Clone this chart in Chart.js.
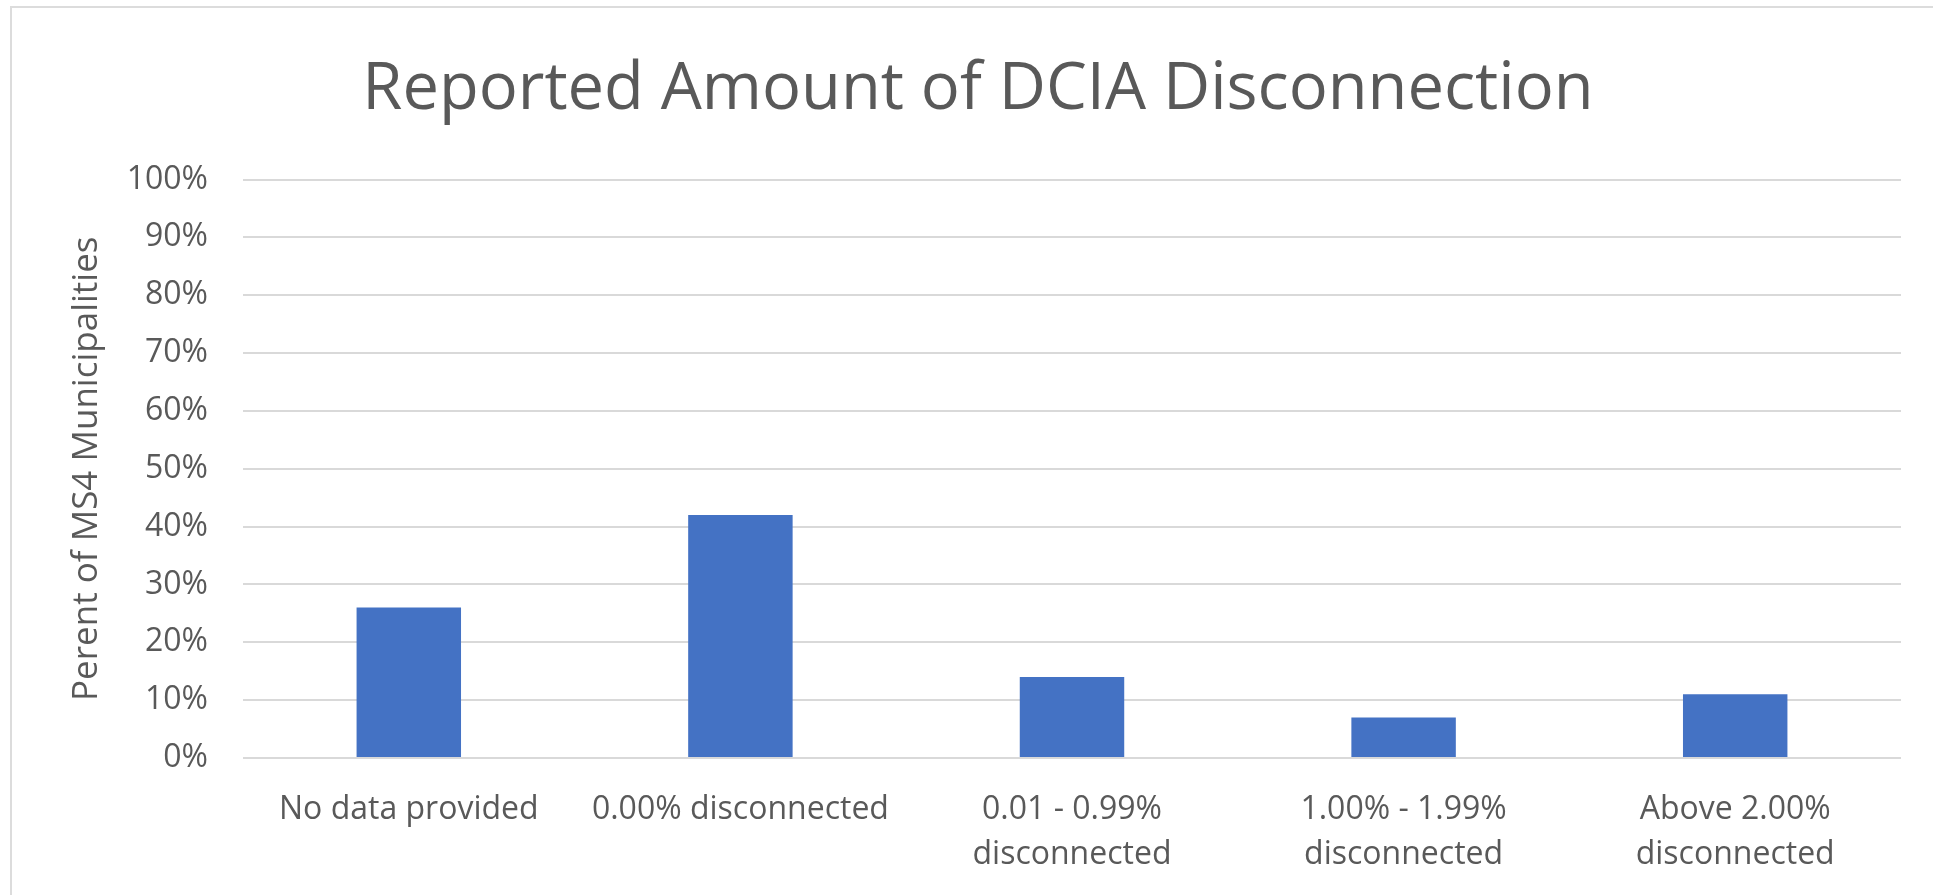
<!DOCTYPE html>
<html>
<head>
<meta charset="utf-8">
<title>Reported Amount of DCIA Disconnection</title>
<script src="https://cdn.jsdelivr.net/npm/chart.js@4"></script>
<style>
    html, body { margin: 0; padding: 0; background: #ffffff; }
    #grafico { display: block; }
</style>
</head>
<body>
<canvas id="grafico" width="1933" height="895"></canvas>
<script>
// Datos
const categorias = [
    'No data provided',
    '0.00% disconnected',
    ['0.01 - 0.99%', 'disconnected'],
    ['1.00% - 1.99%', 'disconnected'],
    ['Above 2.00%', 'disconnected']
];
const porcentajes = [26, 42, 14, 7, 11];
const ticksY = [0, 10, 20, 30, 40, 50, 60, 70, 80, 90, 100];

const titulo = 'Reported Amount of DCIA Disconnection';
const tituloEjeY = 'Perent of MS4 Municipalities';

const grisTexto = '#595959';
const grisLinea = '#d9d9d9';
const azul = '#4472c4';

// marco gris claro arriba y a la izquierda (como el recorte original)
const marco = {
    id: 'marco',
    beforeDraw(chart) {
        const ctx = chart.ctx;
        ctx.save();
        ctx.fillStyle = '#ffffff';
        ctx.fillRect(0, 0, chart.width, chart.height);
        ctx.strokeStyle = '#dcdcdc';
        ctx.lineWidth = 2;
        ctx.beginPath();
        ctx.moveTo(11, chart.height);
        ctx.lineTo(11, 7);
        ctx.lineTo(chart.width, 7);
        ctx.stroke();
        ctx.restore();
    }
};

const ctx = document.getElementById('grafico').getContext('2d');
new Chart(ctx, {
    type: 'bar',
    data: {
        labels: categorias,
        datasets: [{
            label: 'Percent',
            data: porcentajes,
            backgroundColor: azul,
            borderWidth: 0,
            barPercentage: 0.315,
            categoryPercentage: 1
        }]
    },
    options: {
        responsive: false,
        animation: false,
        // padding izquierdo para centrar el título como en el original
        layout: { padding: { left: 55, right: 32, top: 0, bottom: 0 } },
        plugins: {
            legend: { display: false },
            tooltip: { enabled: false },
            title: {
                display: true,
                text: titulo,
                color: grisTexto,
                font: { family: '"Open Sans", sans-serif', size: 65, weight: 'normal', lineHeight: 1.2 },
                padding: { top: 51, bottom: 50.5 }
            }
        },
        scales: {
            x: {
                grid: { display: false },
                border: { display: false },
                ticks: {
                    color: grisTexto,
                    padding: 22,
                    maxRotation: 0,
                    autoSkip: false,
                    font: { family: '"Open Sans", sans-serif', size: 32, lineHeight: 1.39 }
                },
                afterFit(scale) { scale.height = 137; }
            },
            y: {
                min: 0,
                max: 100,
                afterBuildTicks(scale) { scale.ticks = ticksY.map(v => ({ value: v })); },
                grid: { color: grisLinea, lineWidth: 2, drawTicks: false },
                border: { display: false },
                ticks: {
                    color: grisTexto,
                    padding: 35,
                    callback: v => v + '%',
                    font: { family: '"Open Sans", sans-serif', size: 32 }
                },
                title: {
                    display: true,
                    text: tituloEjeY,
                    color: grisTexto,
                    font: { family: '"Open Sans", sans-serif', size: 35, lineHeight: 1.2 },
                    padding: { top: 11, bottom: 0 }
                },
                afterFit(scale) { scale.width = 188; }
            }
        }
    },
    plugins: [marco]
});
</script>
</body>
</html>
